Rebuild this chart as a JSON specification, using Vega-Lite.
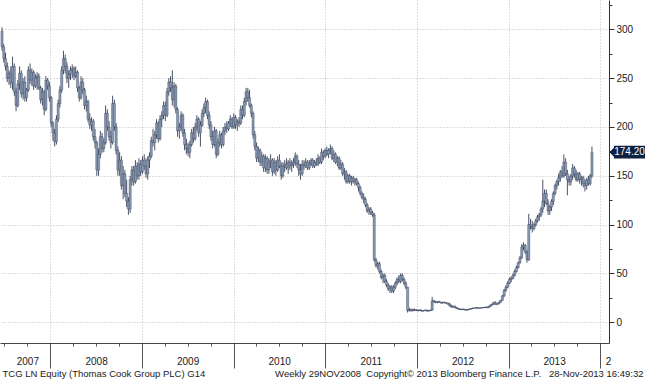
{
"$schema":"https://vega.github.io/schema/vega-lite/v6.json",
"width":609,"height":343,
"autosize":"none",
"padding":{"left":0,"top":0,"right":36,"bottom":37},
"background":"white",
"config":{"view":{"stroke":null},"font":"Liberation Sans"},
"data":{"values":[
{"d":"2007-06-22","o":298,"h":302,"l":278,"c":282},
{"d":"2007-06-29","o":282,"h":285,"l":266,"c":270},
{"d":"2007-07-06","o":270,"h":276,"l":258,"c":262},
{"d":"2007-07-13","o":262,"h":266,"l":246,"c":250},
{"d":"2007-07-20","o":250,"h":258,"l":243,"c":255},
{"d":"2007-07-27","o":255,"h":262,"l":240,"c":245},
{"d":"2007-08-03","o":245,"h":272,"l":238,"c":262},
{"d":"2007-08-10","o":262,"h":265,"l":232,"c":236},
{"d":"2007-08-17","o":236,"h":240,"l":216,"c":222},
{"d":"2007-08-24","o":222,"h":248,"l":220,"c":244},
{"d":"2007-08-31","o":244,"h":262,"l":238,"c":255},
{"d":"2007-09-07","o":255,"h":258,"l":230,"c":234},
{"d":"2007-09-14","o":234,"h":250,"l":228,"c":246},
{"d":"2007-09-21","o":246,"h":252,"l":226,"c":230},
{"d":"2007-09-28","o":230,"h":240,"l":226,"c":238},
{"d":"2007-10-05","o":238,"h":262,"l":236,"c":258},
{"d":"2007-10-12","o":258,"h":265,"l":244,"c":248},
{"d":"2007-10-19","o":248,"h":260,"l":242,"c":256},
{"d":"2007-10-26","o":256,"h":258,"l":238,"c":242},
{"d":"2007-11-02","o":242,"h":254,"l":240,"c":250},
{"d":"2007-11-09","o":250,"h":256,"l":238,"c":252},
{"d":"2007-11-16","o":252,"h":255,"l":238,"c":240},
{"d":"2007-11-23","o":240,"h":242,"l":224,"c":228},
{"d":"2007-11-30","o":228,"h":240,"l":222,"c":236},
{"d":"2007-12-07","o":236,"h":238,"l":212,"c":218},
{"d":"2007-12-14","o":218,"h":252,"l":216,"c":248},
{"d":"2007-12-21","o":248,"h":250,"l":238,"c":242},
{"d":"2007-12-28","o":242,"h":246,"l":226,"c":230},
{"d":"2008-01-04","o":230,"h":232,"l":200,"c":204},
{"d":"2008-01-11","o":204,"h":206,"l":186,"c":194},
{"d":"2008-01-18","o":194,"h":198,"l":180,"c":185},
{"d":"2008-01-25","o":185,"h":212,"l":182,"c":208},
{"d":"2008-02-01","o":208,"h":228,"l":205,"c":224},
{"d":"2008-02-08","o":224,"h":242,"l":220,"c":238},
{"d":"2008-02-15","o":238,"h":262,"l":235,"c":258},
{"d":"2008-02-22","o":258,"h":278,"l":254,"c":270},
{"d":"2008-02-29","o":270,"h":274,"l":255,"c":262},
{"d":"2008-03-07","o":262,"h":266,"l":245,"c":250},
{"d":"2008-03-14","o":250,"h":258,"l":240,"c":254},
{"d":"2008-03-21","o":254,"h":262,"l":248,"c":258},
{"d":"2008-03-28","o":258,"h":264,"l":250,"c":260},
{"d":"2008-04-04","o":260,"h":262,"l":248,"c":252},
{"d":"2008-04-11","o":252,"h":262,"l":250,"c":256},
{"d":"2008-04-18","o":256,"h":258,"l":236,"c":240},
{"d":"2008-04-25","o":240,"h":242,"l":226,"c":230},
{"d":"2008-05-02","o":230,"h":252,"l":228,"c":246},
{"d":"2008-05-09","o":246,"h":250,"l":234,"c":238},
{"d":"2008-05-16","o":238,"h":240,"l":218,"c":222},
{"d":"2008-05-23","o":222,"h":232,"l":216,"c":226},
{"d":"2008-05-30","o":226,"h":228,"l":205,"c":208},
{"d":"2008-06-06","o":208,"h":214,"l":198,"c":202},
{"d":"2008-06-13","o":202,"h":210,"l":196,"c":206},
{"d":"2008-06-20","o":206,"h":208,"l":186,"c":190},
{"d":"2008-06-27","o":190,"h":198,"l":178,"c":184},
{"d":"2008-07-04","o":184,"h":186,"l":150,"c":156},
{"d":"2008-07-11","o":156,"h":178,"l":150,"c":172},
{"d":"2008-07-18","o":172,"h":196,"l":168,"c":190},
{"d":"2008-07-25","o":190,"h":194,"l":174,"c":178},
{"d":"2008-08-01","o":178,"h":188,"l":174,"c":184},
{"d":"2008-08-08","o":184,"h":222,"l":182,"c":214},
{"d":"2008-08-15","o":214,"h":218,"l":196,"c":200},
{"d":"2008-08-22","o":200,"h":206,"l":186,"c":190},
{"d":"2008-08-29","o":190,"h":196,"l":178,"c":184},
{"d":"2008-09-05","o":184,"h":232,"l":182,"c":224},
{"d":"2008-09-12","o":224,"h":228,"l":196,"c":200},
{"d":"2008-09-19","o":200,"h":204,"l":172,"c":176},
{"d":"2008-09-26","o":176,"h":180,"l":150,"c":156},
{"d":"2008-10-03","o":156,"h":174,"l":150,"c":166},
{"d":"2008-10-10","o":166,"h":170,"l":136,"c":140},
{"d":"2008-10-17","o":140,"h":160,"l":126,"c":152},
{"d":"2008-10-24","o":152,"h":156,"l":128,"c":132},
{"d":"2008-10-31","o":132,"h":146,"l":118,"c":124},
{"d":"2008-11-07","o":124,"h":128,"l":110,"c":116},
{"d":"2008-11-14","o":116,"h":150,"l":112,"c":146},
{"d":"2008-11-21","o":146,"h":160,"l":140,"c":156},
{"d":"2008-11-28","o":156,"h":160,"l":140,"c":144},
{"d":"2008-12-05","o":144,"h":166,"l":142,"c":160},
{"d":"2008-12-12","o":160,"h":164,"l":146,"c":150},
{"d":"2008-12-19","o":150,"h":168,"l":146,"c":162},
{"d":"2008-12-26","o":162,"h":166,"l":150,"c":154},
{"d":"2009-01-02","o":154,"h":170,"l":152,"c":166},
{"d":"2009-01-09","o":166,"h":172,"l":156,"c":160},
{"d":"2009-01-16","o":160,"h":168,"l":148,"c":152},
{"d":"2009-01-23","o":152,"h":170,"l":146,"c":166},
{"d":"2009-01-30","o":166,"h":174,"l":158,"c":170},
{"d":"2009-02-06","o":170,"h":190,"l":168,"c":186},
{"d":"2009-02-13","o":186,"h":198,"l":180,"c":184},
{"d":"2009-02-20","o":184,"h":196,"l":176,"c":192},
{"d":"2009-02-27","o":192,"h":208,"l":188,"c":204},
{"d":"2009-03-06","o":204,"h":206,"l":184,"c":188},
{"d":"2009-03-13","o":188,"h":212,"l":186,"c":208},
{"d":"2009-03-20","o":208,"h":216,"l":200,"c":212},
{"d":"2009-03-27","o":212,"h":226,"l":208,"c":222},
{"d":"2009-04-03","o":222,"h":226,"l":206,"c":212},
{"d":"2009-04-10","o":212,"h":240,"l":210,"c":236},
{"d":"2009-04-17","o":236,"h":250,"l":232,"c":246},
{"d":"2009-04-24","o":246,"h":252,"l":236,"c":240},
{"d":"2009-05-01","o":240,"h":258,"l":222,"c":228},
{"d":"2009-05-08","o":228,"h":246,"l":220,"c":242},
{"d":"2009-05-15","o":242,"h":244,"l":214,"c":218},
{"d":"2009-05-22","o":218,"h":220,"l":190,"c":196},
{"d":"2009-05-29","o":196,"h":204,"l":188,"c":200},
{"d":"2009-06-05","o":200,"h":216,"l":196,"c":212},
{"d":"2009-06-12","o":212,"h":214,"l":190,"c":194},
{"d":"2009-06-19","o":194,"h":198,"l":176,"c":182},
{"d":"2009-06-26","o":182,"h":188,"l":172,"c":178},
{"d":"2009-07-03","o":178,"h":184,"l":170,"c":174},
{"d":"2009-07-10","o":174,"h":186,"l":168,"c":182},
{"d":"2009-07-17","o":182,"h":198,"l":180,"c":194},
{"d":"2009-07-24","o":194,"h":200,"l":184,"c":188},
{"d":"2009-07-31","o":188,"h":204,"l":186,"c":200},
{"d":"2009-08-07","o":200,"h":212,"l":196,"c":208},
{"d":"2009-08-14","o":208,"h":210,"l":190,"c":194},
{"d":"2009-08-21","o":194,"h":206,"l":180,"c":202},
{"d":"2009-08-28","o":202,"h":218,"l":200,"c":214},
{"d":"2009-09-04","o":214,"h":224,"l":210,"c":220},
{"d":"2009-09-11","o":220,"h":230,"l":214,"c":226},
{"d":"2009-09-18","o":226,"h":228,"l":208,"c":212},
{"d":"2009-09-25","o":212,"h":216,"l":198,"c":202},
{"d":"2009-10-02","o":202,"h":206,"l":186,"c":190},
{"d":"2009-10-09","o":190,"h":196,"l":178,"c":182},
{"d":"2009-10-16","o":182,"h":200,"l":180,"c":196},
{"d":"2009-10-23","o":196,"h":198,"l":168,"c":172},
{"d":"2009-10-30","o":172,"h":188,"l":170,"c":184},
{"d":"2009-11-06","o":184,"h":196,"l":180,"c":192},
{"d":"2009-11-13","o":192,"h":194,"l":178,"c":182},
{"d":"2009-11-20","o":182,"h":200,"l":180,"c":196},
{"d":"2009-11-27","o":196,"h":204,"l":192,"c":200},
{"d":"2009-12-04","o":200,"h":206,"l":194,"c":198},
{"d":"2009-12-11","o":198,"h":206,"l":196,"c":204},
{"d":"2009-12-18","o":204,"h":212,"l":200,"c":208},
{"d":"2009-12-25","o":208,"h":210,"l":198,"c":200},
{"d":"2010-01-01","o":200,"h":214,"l":198,"c":210},
{"d":"2010-01-08","o":210,"h":212,"l":198,"c":202},
{"d":"2010-01-15","o":202,"h":208,"l":196,"c":206},
{"d":"2010-01-22","o":206,"h":210,"l":200,"c":204},
{"d":"2010-01-29","o":204,"h":222,"l":202,"c":218},
{"d":"2010-02-05","o":218,"h":222,"l":208,"c":212},
{"d":"2010-02-12","o":212,"h":230,"l":210,"c":226},
{"d":"2010-02-19","o":226,"h":240,"l":222,"c":236},
{"d":"2010-02-26","o":236,"h":240,"l":226,"c":230},
{"d":"2010-03-05","o":230,"h":238,"l":220,"c":222},
{"d":"2010-03-12","o":222,"h":224,"l":210,"c":214},
{"d":"2010-03-19","o":214,"h":216,"l":188,"c":192},
{"d":"2010-03-26","o":192,"h":196,"l":176,"c":180},
{"d":"2010-04-02","o":180,"h":184,"l":164,"c":168},
{"d":"2010-04-09","o":168,"h":180,"l":164,"c":176},
{"d":"2010-04-16","o":176,"h":178,"l":160,"c":164},
{"d":"2010-04-23","o":164,"h":174,"l":160,"c":170},
{"d":"2010-04-30","o":170,"h":172,"l":154,"c":158},
{"d":"2010-05-07","o":158,"h":172,"l":154,"c":168},
{"d":"2010-05-14","o":168,"h":170,"l":152,"c":156},
{"d":"2010-05-21","o":156,"h":168,"l":152,"c":164},
{"d":"2010-05-28","o":164,"h":172,"l":158,"c":166},
{"d":"2010-06-04","o":166,"h":168,"l":150,"c":154},
{"d":"2010-06-11","o":154,"h":168,"l":152,"c":164},
{"d":"2010-06-18","o":164,"h":166,"l":150,"c":156},
{"d":"2010-06-25","o":156,"h":170,"l":154,"c":166},
{"d":"2010-07-02","o":166,"h":172,"l":158,"c":160},
{"d":"2010-07-09","o":160,"h":164,"l":146,"c":150},
{"d":"2010-07-16","o":150,"h":164,"l":148,"c":160},
{"d":"2010-07-23","o":160,"h":166,"l":154,"c":162},
{"d":"2010-07-30","o":162,"h":168,"l":156,"c":158},
{"d":"2010-08-06","o":158,"h":166,"l":152,"c":164},
{"d":"2010-08-13","o":164,"h":168,"l":156,"c":160},
{"d":"2010-08-20","o":160,"h":166,"l":154,"c":162},
{"d":"2010-08-27","o":162,"h":168,"l":158,"c":164},
{"d":"2010-09-03","o":164,"h":174,"l":160,"c":170},
{"d":"2010-09-10","o":170,"h":172,"l":158,"c":162},
{"d":"2010-09-17","o":162,"h":166,"l":150,"c":156},
{"d":"2010-09-24","o":156,"h":162,"l":146,"c":152},
{"d":"2010-10-01","o":152,"h":166,"l":150,"c":162},
{"d":"2010-10-08","o":162,"h":166,"l":156,"c":160},
{"d":"2010-10-15","o":160,"h":168,"l":158,"c":164},
{"d":"2010-10-22","o":164,"h":166,"l":156,"c":158},
{"d":"2010-10-29","o":158,"h":166,"l":156,"c":162},
{"d":"2010-11-05","o":162,"h":168,"l":160,"c":166},
{"d":"2010-11-12","o":166,"h":168,"l":158,"c":160},
{"d":"2010-11-19","o":160,"h":166,"l":158,"c":164},
{"d":"2010-11-26","o":164,"h":168,"l":160,"c":162},
{"d":"2010-12-03","o":162,"h":172,"l":160,"c":168},
{"d":"2010-12-10","o":168,"h":170,"l":162,"c":164},
{"d":"2010-12-17","o":164,"h":178,"l":162,"c":174},
{"d":"2010-12-24","o":174,"h":176,"l":166,"c":170},
{"d":"2010-12-31","o":170,"h":178,"l":168,"c":176},
{"d":"2011-01-07","o":176,"h":180,"l":170,"c":172},
{"d":"2011-01-14","o":172,"h":178,"l":168,"c":176},
{"d":"2011-01-21","o":176,"h":182,"l":172,"c":178},
{"d":"2011-01-28","o":178,"h":180,"l":166,"c":168},
{"d":"2011-02-04","o":168,"h":176,"l":164,"c":172},
{"d":"2011-02-11","o":172,"h":174,"l":162,"c":164},
{"d":"2011-02-18","o":164,"h":170,"l":160,"c":168},
{"d":"2011-02-25","o":168,"h":170,"l":156,"c":158},
{"d":"2011-03-04","o":158,"h":166,"l":156,"c":162},
{"d":"2011-03-11","o":162,"h":164,"l":150,"c":152},
{"d":"2011-03-18","o":152,"h":158,"l":146,"c":154},
{"d":"2011-03-25","o":154,"h":156,"l":142,"c":144},
{"d":"2011-04-01","o":144,"h":152,"l":142,"c":150},
{"d":"2011-04-08","o":150,"h":152,"l":142,"c":144},
{"d":"2011-04-15","o":144,"h":150,"l":140,"c":148},
{"d":"2011-04-22","o":148,"h":150,"l":142,"c":144},
{"d":"2011-04-29","o":144,"h":148,"l":140,"c":146},
{"d":"2011-05-06","o":146,"h":148,"l":140,"c":142},
{"d":"2011-05-13","o":142,"h":144,"l":134,"c":138},
{"d":"2011-05-20","o":138,"h":140,"l":130,"c":132},
{"d":"2011-05-27","o":132,"h":134,"l":126,"c":128},
{"d":"2011-06-03","o":128,"h":132,"l":122,"c":126},
{"d":"2011-06-10","o":126,"h":128,"l":118,"c":120},
{"d":"2011-06-17","o":120,"h":122,"l":112,"c":114},
{"d":"2011-06-24","o":114,"h":118,"l":110,"c":116},
{"d":"2011-07-01","o":116,"h":118,"l":110,"c":112},
{"d":"2011-07-08","o":112,"h":114,"l":108,"c":110},
{"d":"2011-07-15","o":110,"h":112,"l":62,"c":64},
{"d":"2011-07-22","o":64,"h":66,"l":56,"c":58},
{"d":"2011-07-29","o":58,"h":62,"l":54,"c":60},
{"d":"2011-08-05","o":60,"h":62,"l":50,"c":52},
{"d":"2011-08-12","o":52,"h":54,"l":44,"c":46},
{"d":"2011-08-19","o":46,"h":50,"l":40,"c":48},
{"d":"2011-08-26","o":48,"h":50,"l":40,"c":42},
{"d":"2011-09-02","o":42,"h":44,"l":36,"c":38},
{"d":"2011-09-09","o":38,"h":40,"l":32,"c":34},
{"d":"2011-09-16","o":34,"h":38,"l":30,"c":36},
{"d":"2011-09-23","o":36,"h":38,"l":30,"c":32},
{"d":"2011-09-30","o":32,"h":38,"l":30,"c":36},
{"d":"2011-10-07","o":36,"h":42,"l":34,"c":40},
{"d":"2011-10-14","o":40,"h":46,"l":38,"c":44},
{"d":"2011-10-21","o":44,"h":48,"l":40,"c":42},
{"d":"2011-10-28","o":42,"h":50,"l":40,"c":48},
{"d":"2011-11-04","o":48,"h":50,"l":42,"c":44},
{"d":"2011-11-11","o":44,"h":46,"l":38,"c":40},
{"d":"2011-11-18","o":40,"h":42,"l":34,"c":36},
{"d":"2011-11-25","o":36,"h":36,"l":10,"c":12},
{"d":"2011-12-02","o":12,"h":15,"l":11,"c":13},
{"d":"2011-12-09","o":13,"h":14,"l":11,"c":12},
{"d":"2011-12-16","o":12,"h":14,"l":11,"c":13},
{"d":"2011-12-23","o":13,"h":14,"l":11.5,"c":12.5},
{"d":"2011-12-30","o":12.5,"h":13.5,"l":11.5,"c":12},
{"d":"2012-01-06","o":12,"h":13,"l":11,"c":12.5},
{"d":"2012-01-13","o":12.5,"h":13.5,"l":11.5,"c":12},
{"d":"2012-01-20","o":12,"h":13,"l":11,"c":11.5},
{"d":"2012-01-27","o":11.5,"h":12.5,"l":11,"c":12},
{"d":"2012-02-03","o":12,"h":13,"l":11.5,"c":12.5},
{"d":"2012-02-10","o":12.5,"h":13,"l":11,"c":11.5},
{"d":"2012-02-17","o":11.5,"h":12.5,"l":11,"c":12},
{"d":"2012-02-24","o":12,"h":13,"l":11.5,"c":12.5},
{"d":"2012-03-02","o":12.5,"h":26,"l":12,"c":22},
{"d":"2012-03-09","o":22,"h":23,"l":20,"c":21},
{"d":"2012-03-16","o":21,"h":22,"l":19.5,"c":20.5},
{"d":"2012-03-23","o":20.5,"h":21.5,"l":19.5,"c":21},
{"d":"2012-03-30","o":21,"h":22,"l":20,"c":20.5},
{"d":"2012-04-06","o":20.5,"h":21,"l":19,"c":20},
{"d":"2012-04-13","o":20,"h":21,"l":19,"c":20.5},
{"d":"2012-04-20","o":20.5,"h":21,"l":19.5,"c":20},
{"d":"2012-04-27","o":20,"h":20.5,"l":19,"c":19.5},
{"d":"2012-05-04","o":19.5,"h":20,"l":18,"c":18.5},
{"d":"2012-05-11","o":18.5,"h":20,"l":16,"c":17},
{"d":"2012-05-18","o":17,"h":18,"l":15,"c":15.5},
{"d":"2012-05-25","o":15.5,"h":17,"l":15,"c":16.5},
{"d":"2012-06-01","o":16.5,"h":17,"l":14.5,"c":15},
{"d":"2012-06-08","o":15,"h":15.5,"l":13.5,"c":14},
{"d":"2012-06-15","o":14,"h":14.5,"l":13,"c":13.5},
{"d":"2012-06-22","o":13.5,"h":14,"l":12.5,"c":13},
{"d":"2012-06-29","o":13,"h":14,"l":12.5,"c":13.5},
{"d":"2012-07-06","o":13.5,"h":14,"l":12.5,"c":13},
{"d":"2012-07-13","o":13,"h":13.5,"l":12,"c":12.5},
{"d":"2012-07-20","o":12.5,"h":13.5,"l":12,"c":13},
{"d":"2012-07-27","o":13,"h":14,"l":12.5,"c":13.5},
{"d":"2012-08-03","o":13.5,"h":14.5,"l":13,"c":14},
{"d":"2012-08-10","o":14,"h":15,"l":13.5,"c":14.5},
{"d":"2012-08-17","o":14.5,"h":15,"l":14,"c":14.5},
{"d":"2012-08-24","o":14.5,"h":15.5,"l":14,"c":15},
{"d":"2012-08-31","o":15,"h":15.5,"l":14,"c":14.5},
{"d":"2012-09-07","o":14.5,"h":15,"l":14,"c":14.5},
{"d":"2012-09-14","o":14.5,"h":15.5,"l":14,"c":15},
{"d":"2012-09-21","o":15,"h":15.5,"l":14.5,"c":15},
{"d":"2012-09-28","o":15,"h":16,"l":14.5,"c":15.5},
{"d":"2012-10-05","o":15.5,"h":16,"l":14.5,"c":15},
{"d":"2012-10-12","o":15,"h":16.5,"l":14.5,"c":16},
{"d":"2012-10-19","o":16,"h":18,"l":15.5,"c":17.5},
{"d":"2012-10-26","o":17.5,"h":19,"l":17,"c":18.5},
{"d":"2012-11-02","o":18.5,"h":21,"l":18,"c":20},
{"d":"2012-11-09","o":20,"h":21.5,"l":18,"c":18.5},
{"d":"2012-11-16","o":18.5,"h":19.5,"l":17.5,"c":19},
{"d":"2012-11-23","o":19,"h":21,"l":18.5,"c":20.5},
{"d":"2012-11-30","o":20.5,"h":23,"l":20,"c":22.5},
{"d":"2012-12-07","o":22.5,"h":28,"l":22,"c":27},
{"d":"2012-12-14","o":27,"h":34,"l":26,"c":33},
{"d":"2012-12-21","o":33,"h":38,"l":31,"c":36},
{"d":"2012-12-28","o":36,"h":42,"l":35,"c":40},
{"d":"2013-01-04","o":40,"h":46,"l":39,"c":44},
{"d":"2013-01-11","o":44,"h":47,"l":41,"c":45},
{"d":"2013-01-18","o":45,"h":50,"l":44,"c":48},
{"d":"2013-01-25","o":48,"h":54,"l":47,"c":52},
{"d":"2013-02-01","o":52,"h":58,"l":51,"c":56},
{"d":"2013-02-08","o":56,"h":62,"l":55,"c":61},
{"d":"2013-02-15","o":61,"h":68,"l":60,"c":66},
{"d":"2013-02-22","o":66,"h":80,"l":65,"c":77},
{"d":"2013-03-01","o":77,"h":82,"l":74,"c":79},
{"d":"2013-03-08","o":79,"h":80,"l":70,"c":72},
{"d":"2013-03-15","o":72,"h":74,"l":61,"c":64},
{"d":"2013-03-22","o":64,"h":111,"l":63,"c":100},
{"d":"2013-03-29","o":100,"h":106,"l":95,"c":98},
{"d":"2013-04-05","o":98,"h":104,"l":92,"c":96},
{"d":"2013-04-12","o":96,"h":102,"l":94,"c":100},
{"d":"2013-04-19","o":100,"h":106,"l":98,"c":104},
{"d":"2013-04-26","o":104,"h":110,"l":102,"c":108},
{"d":"2013-05-03","o":108,"h":112,"l":104,"c":110},
{"d":"2013-05-10","o":110,"h":118,"l":108,"c":116},
{"d":"2013-05-17","o":116,"h":146,"l":112,"c":124},
{"d":"2013-05-24","o":124,"h":136,"l":118,"c":132},
{"d":"2013-05-31","o":132,"h":136,"l":120,"c":122},
{"d":"2013-06-07","o":122,"h":126,"l":110,"c":114},
{"d":"2013-06-14","o":114,"h":120,"l":110,"c":118},
{"d":"2013-06-21","o":118,"h":126,"l":114,"c":124},
{"d":"2013-06-28","o":124,"h":134,"l":120,"c":132},
{"d":"2013-07-05","o":132,"h":142,"l":130,"c":140},
{"d":"2013-07-12","o":140,"h":146,"l":136,"c":144},
{"d":"2013-07-19","o":144,"h":152,"l":140,"c":148},
{"d":"2013-07-26","o":148,"h":156,"l":144,"c":154},
{"d":"2013-08-02","o":154,"h":160,"l":148,"c":150},
{"d":"2013-08-09","o":150,"h":172,"l":148,"c":164},
{"d":"2013-08-16","o":164,"h":168,"l":150,"c":152},
{"d":"2013-08-23","o":152,"h":156,"l":130,"c":146},
{"d":"2013-08-30","o":146,"h":150,"l":140,"c":144},
{"d":"2013-09-06","o":144,"h":152,"l":140,"c":150},
{"d":"2013-09-13","o":150,"h":162,"l":146,"c":158},
{"d":"2013-09-20","o":158,"h":160,"l":148,"c":152},
{"d":"2013-09-27","o":152,"h":156,"l":144,"c":146},
{"d":"2013-10-04","o":146,"h":154,"l":144,"c":152},
{"d":"2013-10-11","o":152,"h":154,"l":142,"c":146},
{"d":"2013-10-18","o":146,"h":150,"l":140,"c":148},
{"d":"2013-10-25","o":148,"h":150,"l":138,"c":142},
{"d":"2013-11-01","o":142,"h":146,"l":134,"c":140},
{"d":"2013-11-08","o":140,"h":148,"l":136,"c":146},
{"d":"2013-11-15","o":146,"h":150,"l":140,"c":142},
{"d":"2013-11-22","o":142,"h":152,"l":140,"c":150},
{"d":"2013-11-29","o":150,"h":180,"l":148,"c":174.2}
]},
"layer":[
{"mark":{"type":"rule","color":"#1a2640","strokeWidth":0.8},
 "encoding":{
  "x":{"field":"d","type":"temporal",
   "scale":{"type":"utc","padding":0,"domain":[{"year":2007,"month":6,"date":14,"utc":true},{"year":2014,"month":2,"date":5,"utc":true}]},
   "axis":{"orient":"bottom","tickCount":100,
    "values":[{"year":2007,"month":7,"date":1,"utc":true},{"year":2007,"month":10,"date":1,"utc":true},
     {"year":2008,"month":1,"date":1,"utc":true},{"year":2008,"month":4,"date":1,"utc":true},{"year":2008,"month":7,"date":1,"utc":true},{"year":2008,"month":10,"date":1,"utc":true},
     {"year":2009,"month":1,"date":1,"utc":true},{"year":2009,"month":4,"date":1,"utc":true},{"year":2009,"month":7,"date":1,"utc":true},{"year":2009,"month":10,"date":1,"utc":true},
     {"year":2010,"month":1,"date":1,"utc":true},{"year":2010,"month":4,"date":1,"utc":true},{"year":2010,"month":7,"date":1,"utc":true},{"year":2010,"month":10,"date":1,"utc":true},
     {"year":2011,"month":1,"date":1,"utc":true},{"year":2011,"month":4,"date":1,"utc":true},{"year":2011,"month":7,"date":1,"utc":true},{"year":2011,"month":10,"date":1,"utc":true},
     {"year":2012,"month":1,"date":1,"utc":true},{"year":2012,"month":4,"date":1,"utc":true},{"year":2012,"month":7,"date":1,"utc":true},{"year":2012,"month":10,"date":1,"utc":true},
     {"year":2013,"month":1,"date":1,"utc":true},{"year":2013,"month":4,"date":1,"utc":true},{"year":2013,"month":7,"date":1,"utc":true},{"year":2013,"month":10,"date":1,"utc":true},
     {"year":2014,"month":1,"date":1,"utc":true}],
    "labelExpr":"((utcmonth(datum.value)==6 && utcyear(datum.value)>2007) || (utcyear(datum.value)==2007 && utcmonth(datum.value)==9)) ? utcFormat(datum.value,'%Y') : (utcyear(datum.value)==2014 ? '2' : '')",
    "labelAlign":{"condition":{"test":"utcyear(datum.value)==2014","value":"left"},"value":"center"},
    "labelOffset":{"condition":{"test":"utcyear(datum.value)==2014","value":5},"value":0},
    "labelPadding":{"condition":{"test":"utcyear(datum.value)==2014","value":-12},"value":10},
    "labelFont":"Liberation Sans","labelFontSize":10,"labelColor":"#1a1a1a",
    "labelBaseline":"top",
    "labelOverlap":false,"labelFlush":false,"labelBound":false,
    "tickSize":{"condition":{"test":"utcmonth(datum.value)==0","value":25},"value":3},
    "tickColor":"#555555","tickWidth":1,
    "domainColor":"#444444","domainWidth":1,
    "grid":true,
    "gridOpacity":{"condition":{"test":"utcmonth(datum.value)==0","value":1},"value":0},
    "gridColor":"#bdbdbd","gridDash":[1,2],
    "title":"TCG LN Equity (Thomas Cook Group PLC) G14",
    "titleX":2,"titleY":30,"titleAlign":"left","titleAnchor":"start","titleBaseline":"middle",
    "titleFont":"Liberation Sans","titleFontSize":9.5,"titleFontWeight":"normal","titleColor":"#1a1a1a"}},
  "y":{"field":"l","type":"quantitative",
   "scale":{"domain":[-21.2,330],"nice":false,"zero":false,"padding":0},
   "axis":{"orient":"right","tickCount":100,
    "values":[0,25,50,75,100,125,150,175,200,225,250,275,300,325],
    "labelExpr":"datum.value % 50 == 0 ? datum.label : ''",
    "tickSize":{"condition":{"test":"datum.value % 50 == 0","value":5},"value":3},
    "grid":true,
    "gridOpacity":{"condition":{"test":"datum.value % 50 == 0","value":1},"value":0},
    "gridColor":"#bdbdbd","gridDash":[1,2],
    "labelPadding":2,"labelFont":"Liberation Sans","labelFontSize":10,"labelColor":"#1a1a1a",
    "labelOverlap":false,"labelFlush":false,
    "domainColor":"#333333","tickColor":"#333333",
    "title":"Weekly 29NOV2008\u00a0\u00a0Copyright\u00a9 2013 Bloomberg Finance L.P.\u00a0\u00a0\u00a028-Nov-2013 16:49:32",
    "titleAngle":0,"titleX":34,"titleY":373,"titleAlign":"right","titleBaseline":"middle",
    "titleFont":"Liberation Sans","titleFontSize":9.5,"titleFontWeight":"normal","titleColor":"#1a1a1a"}},
  "y2":{"field":"h"}
 }},
{"mark":{"type":"bar","width":2.2,"fill":"#8898b0","stroke":"#1a2640","strokeWidth":0.3},
 "encoding":{
  "x":{"field":"d","type":"temporal"},
  "y":{"field":"o","type":"quantitative"},
  "y2":{"field":"c"}
 }},
{"data":{"values":[{"last":174.2,"label":"174.20"}]},
 "mark":{"type":"point","shape":"M-1.29,0 L-1,-0.3 L-1,-0.41 L1,-0.41 L1,0.41 L-1,0.41 L-1,0.3 Z","size":961,"filled":true,"color":"#0f2040","opacity":1,"xOffset":20.5},
 "encoding":{
  "x":{"datum":{"year":2014,"month":2,"date":5,"utc":true},"type":"temporal"},
  "y":{"field":"last","type":"quantitative"}
 }},
{"data":{"values":[{"last":174.2,"label":"174.20"}]},
 "mark":{"type":"text","color":"white","font":"Liberation Sans","fontSize":10,"align":"center","baseline":"middle","dx":20.5},
 "encoding":{
  "x":{"datum":{"year":2014,"month":2,"date":5,"utc":true},"type":"temporal"},
  "y":{"field":"last","type":"quantitative"},
  "text":{"field":"label"}
 }}
]
}
